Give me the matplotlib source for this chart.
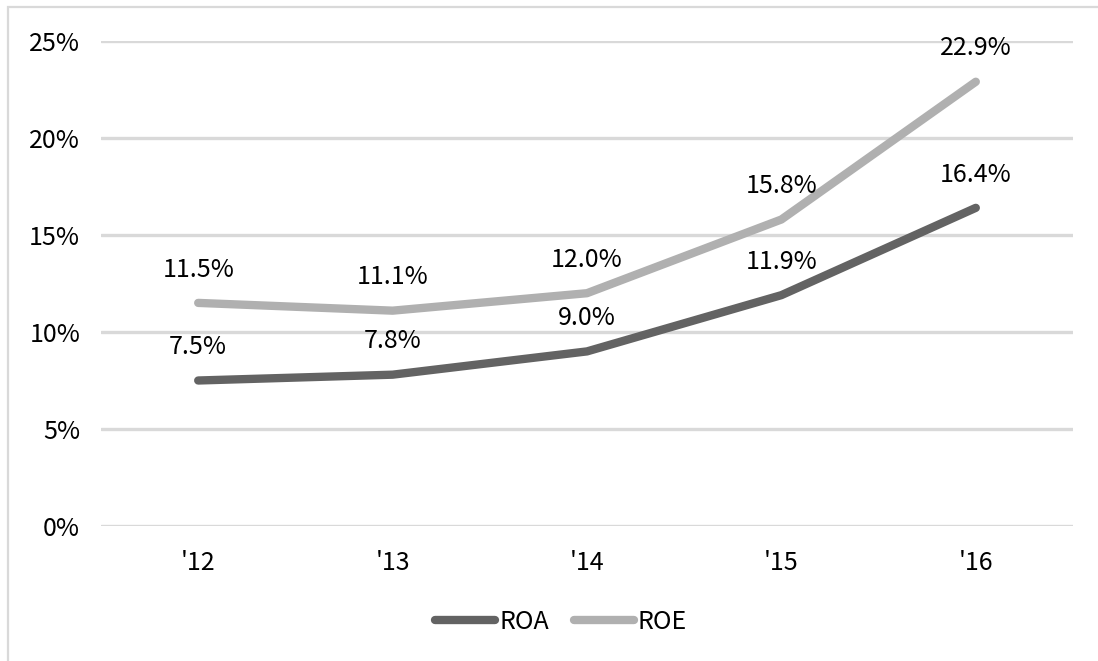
import matplotlib
matplotlib.use("Agg")
import matplotlib.pyplot as plt
from matplotlib.patches import Rectangle
from matplotlib.lines import Line2D

plt.rcParams['font.family'] = ['Noto Sans CJK KR', 'DejaVu Sans']

years = ["'12", "'13", "'14", "'15", "'16"]
roa = [7.5, 7.8, 9.0, 11.9, 16.4]
roe = [11.5, 11.1, 12.0, 15.8, 22.9]
yticks = [0, 5, 10, 15, 20, 25]

W, H = 1098, 661
fig = plt.figure(figsize=(W / 100, H / 100), dpi=100)
ax = fig.add_axes([101 / W, 1 - 526 / H, (1073 - 101) / W, (526 - 41) / H])

x = list(range(len(years)))
roa_color = '#636363'
roe_color = '#b0b0b0'
fs = 18

ax.plot(x, roa, color=roa_color, lw=6, solid_capstyle='round', solid_joinstyle='round', zorder=3, label='ROA')
ax.plot(x, roe, color=roe_color, lw=6, solid_capstyle='round', solid_joinstyle='round', zorder=3, label='ROE')

for series in (roa, roe):
    for xi, v in zip(x, series):
        ax.annotate(f"{v:.1f}%", (xi, v), xytext=(0, 24), textcoords='offset points',
                    ha='center', va='center', fontsize=fs, color='black', zorder=4)

ax.set_xlim(-0.5, len(years) - 0.5)
ax.set_ylim(0, 25)
ax.set_yticks(yticks)
ax.set_yticklabels([f"{t}%" for t in yticks])
ax.set_xticks(x)
ax.set_xticklabels(years)
ax.tick_params(axis='both', length=0, labelsize=fs, colors='black')
ax.tick_params(axis='y', pad=15)
ax.tick_params(axis='x', pad=17)
for s in ax.spines.values():
    s.set_visible(False)
ax.yaxis.grid(True, color='#d9d9d9', lw=2.4, solid_capstyle='round')
ax.set_axisbelow(True)

handles = [Line2D([], [], color=roa_color, lw=6, solid_capstyle='round'),
           Line2D([], [], color=roe_color, lw=6, solid_capstyle='round')]
fig.legend(handles, ['ROA', 'ROE'], loc='center', bbox_to_anchor=(561 / W, 1 - 622 / H),
           ncol=2, frameon=False, fontsize=fs, handlelength=2.4, handletextpad=0.15,
           columnspacing=1.0, borderpad=0)

fig.patches.append(Rectangle((8 / W, -0.1), 1.2, 1 - 7 / H + 0.1, transform=fig.transFigure,
                             fill=False, edgecolor='#d9d9d9', lw=1.6))

fig.savefig('out.png', dpi=100)
